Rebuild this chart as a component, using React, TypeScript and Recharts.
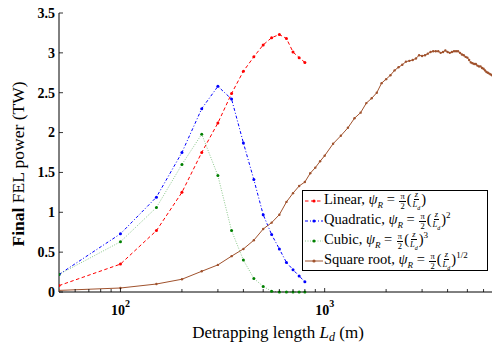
import React from 'react';
import { LineChart, Line, XAxis, YAxis, Legend } from 'recharts';

// Detrapping length L_d (m) for the three tapered profiles
const lengths = [50, 100, 150, 200, 250, 300, 350, 400, 450, 500, 550, 600, 650, 700, 750, 800];
const linearPower = [0.08, 0.35, 0.77, 1.25, 1.75, 2.12, 2.49, 2.77, 2.95, 3.1, 3.19, 3.23, 3.18, 3.01, 2.94, 2.88];
const quadraticPower = [0.22, 0.73, 1.19, 1.75, 2.3, 2.58, 2.42, 1.87, 1.41, 0.97, 0.72, 0.54, 0.37, 0.28, 0.2, 0.13];
const cubicPower = [0.22, 0.63, 1.06, 1.6, 1.98, 1.46, 0.77, 0.4, 0.17, 0.07, 0.01, 0, 0, 0, 0, 0];

// Square-root profile (denser scan)
const sqrtLengths = [
  50, 100, 150, 200, 250, 300, 350, 400, 450, 500, 550, 600, 650, 700, 750, 800, 850, 900, 950, 1000,
  1100, 1200, 1300, 1400, 1500, 1600, 1700, 1800, 1900, 2000, 2100, 2200, 2300, 2400, 2500, 2600, 2700,
  2800, 2900, 3000, 3100, 3200, 3300, 3400, 3500, 3600, 3700, 3800, 3900, 4000, 4100, 4200, 4300, 4400,
  4500, 4600, 4700, 4800, 4900, 5000, 5100, 5200, 5300, 5400, 5500, 5600, 5700, 5800, 5900, 6000, 6100,
  6200, 6300, 6400, 6500, 6600,
];
const sqrtPower = [
  0.02, 0.05, 0.1, 0.16, 0.26, 0.34, 0.45, 0.54, 0.65, 0.79, 0.87, 0.97, 1.13, 1.24, 1.33, 1.38, 1.49, 1.56, 1.64, 1.71,
  1.86, 1.96, 2.06, 2.18, 2.25, 2.37, 2.43, 2.5, 2.62, 2.67, 2.72, 2.78, 2.82, 2.85, 2.89, 2.9, 2.91,
  2.93, 2.97, 2.96, 2.97, 2.99, 3.01, 3.02, 3.02, 3.02, 3.0, 3.01, 3.03, 3.01, 3.0, 3.01, 3.02, 3.02,
  3.02, 3.0, 2.98, 2.97, 2.95, 2.94, 2.91, 2.88, 2.87, 2.86, 2.86, 2.84, 2.83, 2.83, 2.81, 2.8, 2.78,
  2.76, 2.75, 2.74, 2.73, 2.72,
];

const xTicks = [60, 70, 80, 90, 100, 200, 300, 400, 500, 600, 700, 800, 900, 1000, 2000, 3000, 4000, 5000, 6000];
const yTicks = [0, 0.5, 1, 1.5, 2, 2.5, 3, 3.5];

const seriesNames = ['Linear', 'Quadratic', 'Cubic', 'Square root'];
const seriesExponents = ['', '2', '3', '1/2'];

const linearData = lengths.map((L, i) => ({ L, P: linearPower[i] }));
const quadraticData = lengths.map((L, i) => ({ L, P: quadraticPower[i] }));
const cubicData = lengths.map((L, i) => ({ L, P: cubicPower[i] }));
const sqrtData = sqrtLengths.map((L, i) => ({ L, P: sqrtPower[i] }));

const SERIF = '"Liberation Serif", "Times New Roman", serif';

const STYLES: Record<string, { line: string; dot: string; dash?: string; width: number }> = {
  Linear: { line: '#ff0000', dot: '#ff0000', dash: '3.5 2.5', width: 1 },
  Quadratic: { line: '#0000ff', dot: '#0000ff', dash: '3 2 1 2', width: 1 },
  Cubic: { line: '#8cc88c', dot: '#008000', dash: '1 1.5', width: 1 },
  'Square root': { line: '#a0522d', dot: '#a0522d', width: 1 },
};

const XTickBottom = (props: any) => {
  const { x, y, payload } = props;
  const v = payload.value;
  const exp = v === 100 ? '2' : v === 1000 ? '3' : null;
  const len = exp ? 4 : 3;
  return (
    <g>
      <line x1={x} x2={x} y1={y} y2={y - len} stroke="#000" strokeWidth={0.8} />
      {exp && (
        <text x={x} y={y + 23} textAnchor="middle" fontFamily={SERIF} fontWeight="bold" fontSize={14} fill="#000">
          10
          <tspan dy={-8} fontSize={10}>
            {exp}
          </tspan>
        </text>
      )}
    </g>
  );
};

const XTickTop = (props: any) => {
  const { x, y, payload } = props;
  const v = payload.value;
  const len = v === 100 || v === 1000 ? 4 : 3;
  return <line x1={x} x2={x} y1={y} y2={y + len} stroke="#000" strokeWidth={0.8} />;
};

const YTickLeft = (props: any) => {
  const { x, y, payload } = props;
  return (
    <g>
      <line x1={x} x2={x + 4} y1={y} y2={y} stroke="#000" strokeWidth={0.8} />
      <text x={x - 4} y={y} dy="0.35em" textAnchor="end" fontFamily={SERIF} fontWeight="bold" fontSize={14} fill="#000">
        {String(payload.value)}
      </text>
    </g>
  );
};

const YLabel = () => (
  <text
    x={18}
    y={164}
    transform="rotate(-90, 18, 164)"
    textAnchor="middle"
    dominantBaseline="central"
    fontFamily={SERIF}
    fontSize={17.5}
    fill="#000"
  >
    <tspan fontWeight="bold">Final</tspan> FEL power (TW)
  </text>
);

const XLabel = () => (
  <text x={278} y={338} textAnchor="middle" fontFamily={SERIF} fontSize={17} fill="#000">
    Detrapping length <tspan fontStyle="italic">L</tspan>
    <tspan fontStyle="italic" fontSize={12} dy={3}>d</tspan>
    <tspan dy={-3}> (m)</tspan>
  </text>
);

const Frac = ({ top, bottom }: { top: React.ReactNode; bottom: React.ReactNode }) => (
  <span
    style={{
      display: 'inline-flex',
      flexDirection: 'column',
      alignItems: 'center',
      fontSize: 8.5,
      lineHeight: '8.5px',
      verticalAlign: 'middle',
      margin: '0 1px',
    }}
  >
    <span style={{ borderBottom: '0.6px solid #000', padding: '0 1px' }}>{top}</span>
    <span>{bottom}</span>
  </span>
);

const LegendContent = (props: any) => {
  const payload = [...(props.payload || [])].sort(
    (a: any, b: any) => seriesNames.indexOf(a.value) - seriesNames.indexOf(b.value),
  );
  return (
    <div
      style={{
        border: '1.5px solid #000',
        background: '#fff',
        width: 184,
        height: 79,
        boxSizing: 'content-box',
        fontFamily: SERIF,
        fontSize: 14.5,
        color: '#000',
        paddingTop: 0,
      }}
    >
      {payload.map((entry: any) => {
        const name = entry.value as string;
        const st = STYLES[name];
        const exp = seriesExponents[seriesNames.indexOf(name)];
        return (
          <div key={name} style={{ display: 'flex', alignItems: 'center', height: 20, whiteSpace: 'nowrap' }}>
            <svg width={20} height={10} style={{ marginLeft: 1, marginRight: 0, flex: 'none' }}>
              <line x1={1} x2={19} y1={5} y2={5} stroke={st.line} strokeWidth={1} strokeDasharray={st.dash} />
              <circle cx={10} cy={5} r={1.6} fill={st.dot} />
            </svg>
            <span>
              {name}, <i>ψ</i>
              <sub style={{ fontSize: 9, fontStyle: 'italic' }}>R</sub> = <Frac top="π" bottom="2" />(
              <Frac top={<i>z</i>} bottom={<i>L<sub style={{ fontSize: 6 }}>d</sub></i>} />)
              {exp && <sup style={{ fontSize: 9 }}>{exp}</sup>}
            </span>
          </div>
        );
      })}
    </div>
  );
};

const dotOf = (color: string) => ({ r: 1.5, fill: color, stroke: 'none' });

export default function App() {
  return (
    <div style={{ position: 'absolute', left: 0, top: 0, width: 492, height: 343, background: '#fff' }}>
      <LineChart width={492} height={343} margin={{ top: 13, right: 0, bottom: 0, left: 0 }}>
        <XAxis
          dataKey="L"
          type="number"
          scale="log"
          domain={[50, 6600]}
          allowDataOverflow
          ticks={xTicks}
          interval={0}
          height={51}
          tickSize={0}
          tickMargin={0}
          tickLine={false}
          axisLine={{ stroke: '#000', strokeWidth: 1 }}
          tick={<XTickBottom />}
          label={<XLabel />}
        />
        <XAxis
          xAxisId="top"
          orientation="top"
          dataKey="L"
          type="number"
          scale="log"
          domain={[50, 6600]}
          allowDataOverflow
          ticks={xTicks}
          interval={0}
          height={0}
          tickSize={0}
          tickMargin={0}
          tickLine={false}
          axisLine={{ stroke: '#000', strokeWidth: 1 }}
          tick={<XTickTop />}
        />
        <YAxis
          type="number"
          domain={[0, 3.5]}
          ticks={yTicks}
          interval={0}
          width={59}
          tickSize={0}
          tickMargin={0}
          tickLine={false}
          axisLine={{ stroke: '#000', strokeWidth: 1 }}
          tick={<YTickLeft />}
          label={<YLabel />}
        />
        <Legend
          layout="vertical"
          align="center"
          verticalAlign="middle"
          itemSorter={(item: any) => seriesNames.indexOf(item.value)}
          wrapperStyle={{ position: 'absolute', left: 302, top: 190, width: 190, height: 84 }}
          content={<LegendContent />}
        />
        <Line
          name="Linear"
          data={linearData}
          dataKey="P"
          stroke={STYLES.Linear.line}
          strokeWidth={1}
          strokeDasharray={STYLES.Linear.dash}
          dot={dotOf(STYLES.Linear.dot)}
          isAnimationActive={false}
          type="linear"
        />
        <Line
          name="Quadratic"
          data={quadraticData}
          dataKey="P"
          stroke={STYLES.Quadratic.line}
          strokeWidth={1}
          strokeDasharray={STYLES.Quadratic.dash}
          dot={dotOf(STYLES.Quadratic.dot)}
          isAnimationActive={false}
          type="linear"
        />
        <Line
          name="Cubic"
          data={cubicData}
          dataKey="P"
          stroke={STYLES.Cubic.line}
          strokeWidth={1}
          strokeDasharray={STYLES.Cubic.dash}
          dot={dotOf(STYLES.Cubic.dot)}
          isAnimationActive={false}
          type="linear"
        />
        <Line
          name="Square root"
          data={sqrtData}
          dataKey="P"
          stroke={STYLES['Square root'].line}
          strokeWidth={1}
          dot={{ r: 1.2, fill: STYLES['Square root'].dot, stroke: 'none' }}
          isAnimationActive={false}
          type="linear"
        />
      </LineChart>
    </div>
  );
}
